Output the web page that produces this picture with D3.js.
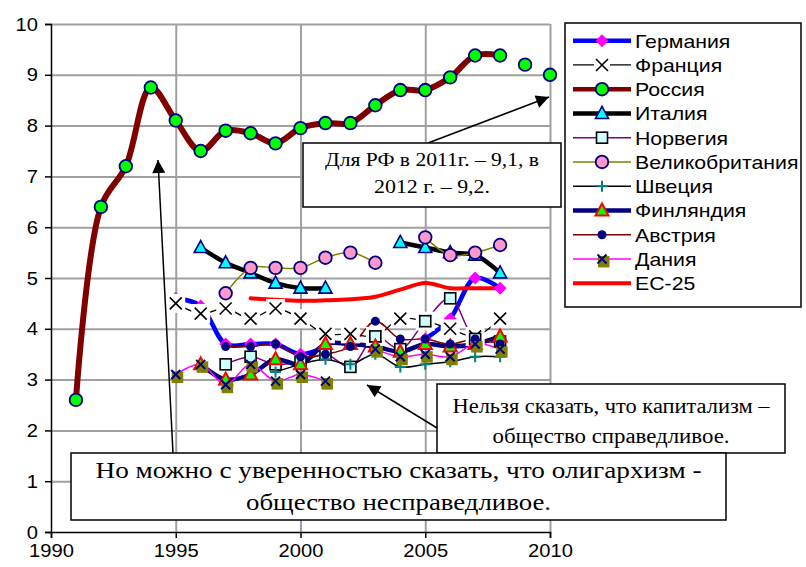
<!DOCTYPE html>
<html>
<head>
<meta charset="utf-8">
<script src="https://cdn.jsdelivr.net/npm/d3@7/dist/d3.min.js"></script>
<style>
  body { margin: 0; background: #fff; }
</style>
</head>
<body>
<div id="chart"></div>
<script>
// data (null = no value that year)
var years    = [1991, 1992, 1993, 1994, 1995, 1996, 1997, 1998, 1999, 2000, 2001, 2002, 2003, 2004, 2005, 2006, 2007, 2008];
var germany  = [null, null, null, null, 4.6, 4.45, 3.7, 3.7, 3.7, 3.5, 3.65, null, null, null, 3.8, 4.2, 5.0, 4.8];
var france   = [null, null, null, null, 4.5, 4.3, 4.4, 4.2, 4.4, 4.2, 3.9, 3.9, 3.85, 4.2, 4.15, 4.0, 3.85, 4.2];
var russia   = [2.6, 6.4, 7.2, 8.75, 8.1, 7.5, 7.9, 7.85, 7.65, 7.95, 8.05, 8.05, 8.4, 8.7, 8.7, 8.95, 9.38, 9.38];
var italy    = [null, null, null, null, null, 5.6, 5.3, 5.1, 4.9, 4.8, 4.8, null, null, 5.7, 5.6, 5.5, 5.45, 5.1];
var norway   = [null, null, null, null, null, null, 3.3, 3.45, 3.3, 3.35, 3.5, 3.25, 3.85, 3.6, 4.15, 4.6, 3.8, 3.75];
var britain  = [null, null, null, null, null, null, 4.7, 5.2, 5.2, 5.2, 5.4, 5.5, 5.3, null, 5.8, 5.45, 5.5, 5.65];
var sweden   = [null, null, null, null, null, null, null, null, 3.15, 3.3, 3.4, 3.3, 3.5, 3.25, 3.3, 3.35, 3.45, 3.45];
var finland  = [null, null, null, null, null, 3.3, 3.0, 3.1, 3.4, 3.3, 3.7, 3.7, 3.65, 3.55, 3.7, 3.65, 3.7, 3.85];
var austria  = [null, null, null, null, null, null, 3.65, 3.65, 3.7, 3.45, 3.5, 3.65, 4.15, 3.8, 3.8, 3.7, 3.8, 3.7];
var denmark  = [null, null, null, null, 3.1, 3.3, 2.9, 3.3, 2.97, 3.1, 2.97, null, 3.6, 3.45, 3.5, 3.45, 3.7, 3.6];
var eu25     = [null, null, null, null, null, null, null, 4.6, 4.57, 4.55, 4.56, 4.58, 4.63, 4.77, 4.9, 4.8, 4.8, 4.8];

// two extra russian points drawn without a line
var russiaTailYears  = [2009, 2010];
var russiaTailValues = [9.2, 9.0];

var xTicks = [1990, 1995, 2000, 2005, 2010];
var yTicks = [0, 1, 2, 3, 4, 5, 6, 7, 8, 9, 10];

var seriesNames = ["Германия", "Франция", "Россия", "Италия", "Норвегия", "Великобритания",
                   "Швеция", "Финляндия", "Австрия", "Дания", "ЕС-25"];

// styling per series
var series = [
  {name: seriesNames[0],  values: germany, color: "#0000ff", width: 4.5, marker: "diamond"},
  {name: seriesNames[1],  values: france,  color: "#000000", width: 1.3, marker: "cross"},
  {name: seriesNames[2],  values: russia,  color: "#800000", width: 6,   marker: "green"},
  {name: seriesNames[3],  values: italy,   color: "#000000", width: 4.5, marker: "cyantri"},
  {name: seriesNames[4],  values: norway,  color: "#800080", width: 1.5, marker: "square"},
  {name: seriesNames[5],  values: britain, color: "#808000", width: 1.5, marker: "pink"},
  {name: seriesNames[6],  values: sweden,  color: "#000000", width: 1.5, marker: "plus"},
  {name: seriesNames[7],  values: finland, color: "#000080", width: 4.5, marker: "greentri"},
  {name: seriesNames[8],  values: austria, color: "#800000", width: 1.5, marker: "dot"},
  {name: seriesNames[9],  values: denmark, color: "#ff00ff", width: 1.5, marker: "olive"},
  {name: seriesNames[10], values: eu25,    color: "#ff0000", width: 4,   marker: "none"}
];

// set the dimensions and margins of the graph
var margin = {top: 24, right: 256, bottom: 35, left: 51},
    width = 806 - margin.left - margin.right,
    height = 567 - margin.top - margin.bottom;

var svgRoot = d3.select("#chart")
  .append("svg")
    .attr("width", 806)
    .attr("height", 567)
    .style("font-family", "'Liberation Sans', Arial, sans-serif");

var svg = svgRoot.append("g")
    .attr("transform", "translate(" + margin.left + "," + margin.top + ")");

var x = d3.scaleLinear().domain([1990, 2010]).range([0, width]);
var y = d3.scaleLinear().domain([0, 10]).range([height, 0]);

// the excel picture is a bit stretched sideways, so widen text a little
function stretch(sel, k) {
  sel.each(function() {
    var w = this.getComputedTextLength();
    d3.select(this).attr("textLength", w * k).attr("lengthAdjust", "spacingAndGlyphs");
  });
}

// gridlines
svg.append("g")
  .attr("class", "grid")
  .call(d3.axisLeft(y).tickValues(yTicks.slice(1)).tickSize(-width).tickFormat(""))
  .call(function(g) { g.select(".domain").remove(); });
svg.append("g")
  .attr("class", "grid")
  .call(d3.axisTop(x).tickValues(xTicks.slice(1)).tickSize(-height).tickFormat(""))
  .call(function(g) { g.select(".domain").remove(); });
svg.selectAll(".grid line")
  .attr("stroke", "#a0a0a0")
  .attr("stroke-width", 2);

// axes
var yAxis = svg.append("g")
  .call(d3.axisLeft(y).tickValues(yTicks).tickSize(6).tickPadding(7));
var xAxis = svg.append("g")
  .attr("transform", "translate(0," + height + ")")
  .call(d3.axisBottom(x).tickValues(xTicks).tickSize(6).tickPadding(6).tickFormat(d3.format("d")));
[xAxis, yAxis].forEach(function(a) {
  a.selectAll("path, line").attr("stroke", "#000").attr("stroke-width", 1.5);
  a.selectAll("text").attr("font-size", 19).attr("fill", "#000")
    .style("font-family", "'Liberation Sans', Arial, sans-serif");
  stretch(a.selectAll("text"), 1.06);
});

// lines (all lines first, markers on top like excel does)
var line = d3.line()
  .defined(function(d) { return d.v != null; })
  .x(function(d) { return x(d.year); })
  .y(function(d) { return y(d.v); })
  .curve(d3.curveCatmullRom.alpha(0.5));

series.forEach(function(s) {
  s.points = years.map(function(yr, i) { return {year: yr, v: s.values[i]}; });
  svg.append("path")
    .datum(s.points)
    .attr("fill", "none")
    .attr("stroke", s.color)
    .attr("stroke-width", s.width)
    .attr("stroke-linejoin", "round")
    .attr("stroke-linecap", "round")
    .attr("d", line);
});

function drawMarker(g, type, legend) {
  if (type == "diamond") {
    g.append("path").attr("d", "M0,-6.5L6.5,0L0,6.5L-6.5,0Z").attr("fill", "#ff00ff");
  } else if (type == "cross") {
    var b = legend ? 8 : 9.5;
    g.append("rect").attr("x", -b).attr("y", -b).attr("width", 2 * b).attr("height", 2 * b).attr("fill", "#fff");
    g.append("path").attr("d", "M-6,-6L6,6M-6,6L6,-6").attr("stroke", "#000").attr("stroke-width", 1.6);
  } else if (type == "green") {
    g.append("circle").attr("r", 6.3).attr("fill", "#00ff00").attr("stroke", "#000080").attr("stroke-width", 1.8);
  } else if (type == "pink") {
    g.append("circle").attr("r", 6.3).attr("fill", "#ff99cc").attr("stroke", "#000080").attr("stroke-width", 1.8);
  } else if (type == "cyantri") {
    g.append("path").attr("d", "M0,-7L6.5,5L-6.5,5Z").attr("fill", "#00ffff")
      .attr("stroke", "#000080").attr("stroke-width", 1.6).attr("stroke-linejoin", "miter");
  } else if (type == "greentri") {
    g.append("path").attr("d", "M0,-7L6.5,5L-6.5,5Z").attr("fill", "#00ff00")
      .attr("stroke", "#ff0000").attr("stroke-width", 2).attr("stroke-linejoin", "miter");
  } else if (type == "square") {
    g.append("rect").attr("x", -5.5).attr("y", -5.5).attr("width", 11).attr("height", 11)
      .attr("fill", "#ccffff").attr("stroke", "#000").attr("stroke-width", 1.6);
  } else if (type == "plus") {
    g.append("path").attr("d", "M-5.5,0H5.5M0,-5.5V5.5").attr("stroke", "#008080").attr("stroke-width", 2);
  } else if (type == "dot") {
    g.append("circle").attr("r", 4.5).attr("fill", "#000080");
  } else if (type == "olive") {
    g.append("rect").attr("x", -4).attr("y", -3).attr("width", 11.5).attr("height", 11.5).attr("fill", "#808000");
    g.append("path").attr("d", "M-4.5,-4.5L4.5,4.5M-4.5,4.5L4.5,-4.5").attr("stroke", "#000080").attr("stroke-width", 2);
  }
}

series.forEach(function(s) {
  if (s.marker == "none") return;
  svg.selectAll(null)
    .data(s.points.filter(function(d) { return d.v != null; }))
    .enter()
    .append("g")
      .attr("transform", function(d) { return "translate(" + x(d.year) + "," + y(d.v) + ")"; })
      .each(function() { drawMarker(d3.select(this), s.marker, false); });
});

// russian 2011/2012 values, markers only
svg.selectAll(null)
  .data(russiaTailYears.map(function(yr, i) { return {year: yr, v: russiaTailValues[i]}; }))
  .enter()
  .append("g")
    .attr("transform", function(d) { return "translate(" + x(d.year) + "," + y(d.v) + ")"; })
    .each(function() { drawMarker(d3.select(this), "green", false); });

// legend
var legend = svgRoot.append("g");
legend.append("rect")
  .attr("x", 565).attr("y", 23).attr("width", 236).attr("height", 284)
  .attr("fill", "#fff").attr("stroke", "#000").attr("stroke-width", 1.5);

series.forEach(function(s, i) {
  var ly = 40.7 + i * 24.25;
  var item = legend.append("g").attr("transform", "translate(0," + ly + ")");
  item.append("line")
    .attr("x1", 573).attr("x2", 631).attr("y1", 0).attr("y2", 0)
    .attr("stroke", s.color).attr("stroke-width", Math.min(s.width, 4.5));
  drawMarker(item.append("g").attr("transform", "translate(602,0)"), s.marker, true);
  item.append("text")
    .attr("x", 635).attr("y", 0).attr("dy", "0.36em")
    .attr("font-size", 19)
    .text(s.name);
});
stretch(legend.selectAll("text"), 1.12);

// annotations
var defs = svgRoot.append("defs");
defs.append("marker")
  .attr("id", "arrow")
  .attr("viewBox", "0 0 10 10")
  .attr("refX", 10).attr("refY", 5)
  .attr("markerUnits", "userSpaceOnUse")
  .attr("markerWidth", 15).attr("markerHeight", 13)
  .attr("orient", "auto")
  .append("path").attr("d", "M0,0L10,5L0,10Z").attr("fill", "#000");

var notes = [
  {box: [303, 143, 258, 64], size: 18, lines: ["Для РФ в 2011г. – 9,1, в", "2012 г. – 9,2."],
   lineY: [160, 187], lineW: [214, 116], arrow: [428, 143, 549, 97]},
  {box: [437, 384, 348, 69], size: 20, lines: ["Нельзя сказать, что капитализм –", "общество справедливое."],
   lineY: [406, 436], lineW: [317, 237], arrow: [437, 428, 367, 385]},
  {box: [71, 453, 655, 67], size: 23, lines: ["Но можно с уверенностью сказать, что олигархизм  -", "общество несправедливое."],
   lineY: [470, 502], lineW: [606, 305], arrow: [173, 453, 158, 160]}
];

notes.forEach(function(n) {
  svgRoot.append("line")
    .attr("x1", n.arrow[0]).attr("y1", n.arrow[1]).attr("x2", n.arrow[2]).attr("y2", n.arrow[3])
    .attr("stroke", "#000").attr("stroke-width", 1.5)
    .attr("marker-end", "url(#arrow)");
  svgRoot.append("rect")
    .attr("x", n.box[0]).attr("y", n.box[1]).attr("width", n.box[2]).attr("height", n.box[3])
    .attr("fill", "#fff").attr("stroke", "#000").attr("stroke-width", 1.5);
  n.lines.forEach(function(t, i) {
    svgRoot.append("text")
      .attr("x", n.box[0] + n.box[2] / 2).attr("y", n.lineY[i]).attr("dy", "0.35em")
      .attr("text-anchor", "middle")
      .attr("font-size", n.size)
      .attr("textLength", n.lineW[i])
      .attr("lengthAdjust", "spacingAndGlyphs")
      .style("font-family", "'Liberation Serif', 'Times New Roman', serif")
      .text(t);
  });
});
</script>
</body>
</html>
